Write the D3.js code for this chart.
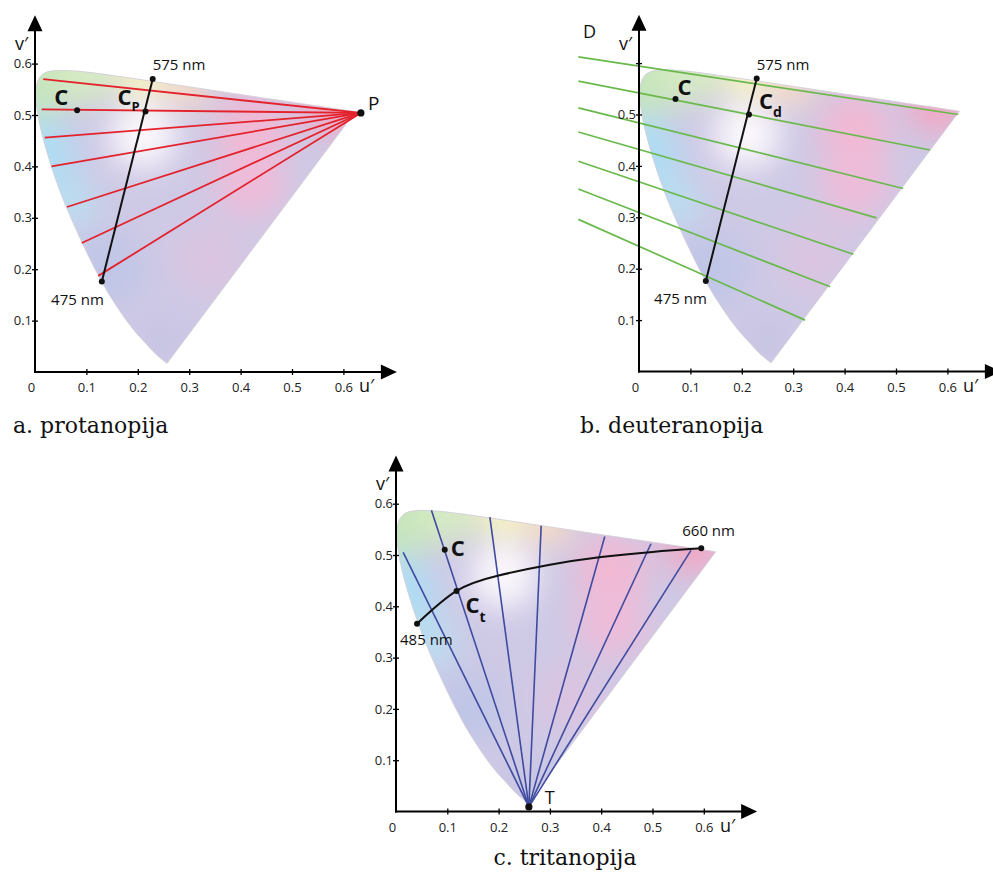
<!DOCTYPE html>
<html><head><meta charset="utf-8">
<script src="https://cdn.jsdelivr.net/npm/d3@7"></script>
<style>body{margin:0;background:#fff} svg{display:block}</style>
</head><body>
<svg id="chart" width="993" height="879"></svg>
<script>
// ---------- DATA (CIE 1976 u'v' chromaticity) ----------
const locusNm = [380,440,450,460,470,475,480,485,490,495,500,505,510,515,520,525,530,540,550,560,570,575,580,590,600,610,620,630,640,650,660,680,700];
const locusU  = [0.2568,0.2347,0.2161,0.1877,0.1441,0.1147,0.0828,0.0521,0.0282,0.0119,0.0035,0.0014,0.0046,0.0123,0.0231,0.0360,0.0501,0.0792,0.1127,0.1531,0.2026,0.2312,0.2623,0.3315,0.4035,0.4692,0.5203,0.5565,0.5830,0.6005,0.6109,0.6199,0.6234];
const locusV  = [0.0166,0.0350,0.0549,0.0871,0.1510,0.2044,0.2708,0.3427,0.4117,0.4698,0.5131,0.5432,0.5638,0.5770,0.5837,0.5861,0.5868,0.5856,0.5821,0.5766,0.5694,0.5651,0.5604,0.5501,0.5393,0.5296,0.5219,0.5165,0.5125,0.5099,0.5084,0.5070,0.5065];

const tickValues = [0.1,0.2,0.3,0.4,0.5,0.6];
const tickLabelsA = ["0.1","0.2","0.3","0.4","0.5","0.6"];
const tickLabelsB = ["0.1","0.2","0.3","0.4","0.5",""];
const xTickLabels = ["0","0.1","0.2","0.3","0.4","0.5","0.6"];
const xTickValues = [0,0.1,0.2,0.3,0.4,0.5,0.6];

// protanopia (a)
const protanPoint = [0.634, 0.504];
const protanStartU = [0.016,0.013,0.019,0.032,0.062,0.091,0.123];
const protanStartV = [0.570,0.511,0.456,0.400,0.321,0.251,0.187];
const protanC  = [0.082, 0.509];
const protanCp = [0.215, 0.507];
const axis575 = [0.229, 0.570];
const axis475 = [0.130, 0.176];

// deuteranopia (b)
const deutanStartU = [-0.118,-0.118,-0.118,-0.118,-0.118,-0.118,-0.118];
const deutanStartV = [0.612,0.565,0.513,0.466,0.409,0.355,0.296];
const deutanEndU   = [0.621,0.566,0.514,0.462,0.417,0.372,0.323];
const deutanEndV   = [0.500,0.431,0.356,0.299,0.228,0.165,0.100];
const deutanC  = [0.071, 0.530];
const deutanCd = [0.214, 0.500];

// tritanopia (c)
const tritanPoint = [0.259, 0.009];
const tritanEndU = [0.014,0.069,0.183,0.283,0.407,0.497,0.575];
const tritanEndV = [0.505,0.587,0.574,0.557,0.536,0.522,0.509];
const tritanCurveU = [0.041,0.118,0.200,0.300,0.400,0.500,0.595];
const tritanCurveV = [0.366,0.430,0.460,0.481,0.496,0.506,0.513];
const tritanC  = [0.095, 0.510];
const tritanCt = [0.118, 0.430];

// decorative colour blobs of the chromaticity fill
const blobs = [
  {u:0.00,v:0.58,r:0.09,c:"#c6e5bc"},
  {u:0.10,v:0.58,r:0.06,c:"#d6ebc3"},
  {u:0.21,v:0.58,r:0.05,c:"#f8f4c0"},
  {u:0.30,v:0.56,r:0.045,c:"#f9dac4"},
  {u:0.00,v:0.42,r:0.08,c:"#afddf3"},
  {u:0.07,v:0.33,r:0.05,c:"#badef1"},
  {u:0.21,v:0.46,r:0.065,c:"#fcf8fc"},
  {u:0.42,v:0.47,r:0.07,c:"#f2b8d3"},
  {u:0.58,v:0.52,r:0.06,c:"#f2a8c4"},
  {u:0.42,v:0.37,r:0.07,c:"#eebcd9"},
  {u:0.14,v:0.20,r:0.07,c:"#c0c6e7"},
  {u:0.34,v:0.22,r:0.07,c:"#dac4e1"},
  {u:0.25,v:0.06,r:0.05,c:"#c8c5e3"}
];

// ---------- DRAW ----------
const svg = d3.select("#chart");
svg.append("rect").attr("width",993).attr("height",879).attr("fill","#fff");
const defs = svg.append("defs");
defs.append("filter").attr("id","blur").attr("filterUnits","userSpaceOnUse")
  .attr("x",-200).attr("y",-200).attr("width",1400).attr("height",1300)
  .append("feGaussianBlur").attr("stdDeviation",15);

const panels = [
  {id:"a", ox:35,  oy:372,   k:514},
  {id:"b", ox:639, oy:371.5, k:514},
  {id:"c", ox:396, oy:811.5, k:513}
];
const labelFont = "'Open Sans', 'DejaVu Sans', sans-serif";

function makePanel(p){
  const x = d3.scaleLinear().domain([0,0.6]).range([p.ox, p.ox+0.6*p.k]);
  const y = d3.scaleLinear().domain([0,0.6]).range([p.oy, p.oy-0.6*p.k]);
  const g = svg.append("g").attr("class","panel-"+p.id);
  const locusPts = locusU.map((u,i)=>[x(u), y(locusV[i])]);
  const lineGen = d3.line().curve(d3.curveCatmullRom.alpha(0.5));
  const locusPath = lineGen(locusPts) + "Z";
  defs.append("clipPath").attr("id","clip-"+p.id).append("path").attr("d",locusPath);
  const fillG = g.append("g").attr("clip-path","url(#clip-"+p.id+")");
  fillG.append("path").attr("d",locusPath).attr("fill","#cec9e5");
  fillG.append("g").attr("filter","url(#blur)").selectAll("circle").data(blobs).join("circle")
    .attr("cx",d=>x(d.u)).attr("cy",d=>y(d.v)).attr("r",d=>d.r*p.k).attr("fill",d=>d.c);
  g.append("path").attr("d",locusPath).attr("fill","none").attr("stroke","#d4cfd8").attr("stroke-width",0.9);
  return {x,y,g};
}

function drawAxes(P, p, yLabels){
  const {x,y,g} = P;
  const ax = g.append("g");
  const xEnd = 0.704, yEnd = 0.694;
  const xa = ax.append("g").attr("transform",`translate(0,${p.oy})`)
    .call(d3.axisBottom(x).tickValues(xTickValues).tickSize(3).tickFormat((d,i)=>xTickLabels[i]));
  xa.select(".domain").remove();
  xa.selectAll(".tick line").attr("y1",-3).attr("y2",3).attr("stroke","#000").attr("stroke-width",1.3)
    .filter(d=>d===0).remove();
  xa.selectAll(".tick text").attr("y",11).attr("font-size",13).attr("font-family",labelFont).attr("fill","#222")
    .attr("dx",d=>d===0?-4:0);
  ax.append("line").attr("x1",x(0)-1).attr("x2",x(xEnd)-12).attr("y1",p.oy).attr("y2",p.oy)
    .attr("stroke","#000").attr("stroke-width",2);
  ax.append("path").attr("d",`M${x(xEnd)},${p.oy} L${x(xEnd)-16},${p.oy-7.5} L${x(xEnd)-16},${p.oy+7.5}Z`).attr("fill","#000");
  const ya = ax.append("g").attr("transform",`translate(${p.ox},0)`)
    .call(d3.axisLeft(y).tickValues(tickValues).tickSize(3).tickFormat((d,i)=>yLabels[i]));
  ya.select(".domain").remove();
  ya.selectAll(".tick line").attr("x1",-3).attr("x2",3).attr("stroke","#000").attr("stroke-width",1.3);
  ya.selectAll(".tick text").attr("x",-3).attr("font-size",13).attr("font-family",labelFont).attr("fill","#222");
  ax.append("line").attr("x1",p.ox).attr("x2",p.ox).attr("y1",p.oy+1).attr("y2",y(yEnd)+12)
    .attr("stroke","#000").attr("stroke-width",2);
  ax.append("path").attr("d",`M${p.ox},${y(yEnd)} L${p.ox-7.5},${y(yEnd)+16} L${p.ox+7.5},${y(yEnd)+16}Z`).attr("fill","#000");
  ax.append("text").attr("x",p.ox+324).attr("y",p.oy+20).text("u\u2032")
    .attr("font-size",18).attr("font-family",labelFont).attr("fill","#111");
  ax.append("text").attr("x",p.ox-20).attr("y",p.oy-322).text("v\u2032")
    .attr("font-size",18).attr("font-family",labelFont).attr("fill","#111");
}

function dot(g,x,y,pt,r){
  g.append("circle").attr("cx",x(pt[0])).attr("cy",y(pt[1])).attr("r",r||3.2).attr("fill","#111");
}
function txt(g,xp,yp,s,size,weight,anchor){
  return g.append("text").attr("x",xp).attr("y",yp).text(s).attr("font-size",size)
    .attr("font-weight",weight||"normal").attr("text-anchor",anchor||"start")
    .attr("font-family",labelFont).attr("fill","#111");
}

// ---- panel a: protanopia
{
  const p = panels[0]; const P = makePanel(p); const {x,y,g} = P;
  g.append("g").selectAll("line").data(protanStartU).join("line")
    .attr("x1",(d)=>x(d)).attr("y1",(d,i)=>y(protanStartV[i]))
    .attr("x2",x(protanPoint[0])).attr("y2",y(protanPoint[1]))
    .attr("stroke","#e3222b").attr("stroke-width",1.8);
  g.append("line").attr("x1",x(axis475[0])).attr("y1",y(axis475[1])).attr("x2",x(axis575[0])).attr("y2",y(axis575[1]))
    .attr("stroke","#111").attr("stroke-width",2);
  [protanC, protanCp, axis575, axis475].forEach(pt=>dot(g,x,y,pt,3));
  dot(g,x,y,protanPoint,3.6);
  txt(g,x(axis575[0]),y(axis575[1])-9,"575 nm",15);
  txt(g,x(axis475[0])+2,y(axis475[1])+23,"475 nm",15,"normal","end");
  txt(g,x(protanC[0])-23,y(protanC[1])-5,"C",22,"bold");
  txt(g,x(protanCp[0])-28,y(protanCp[1])-6,"C",22,"bold");
  txt(g,x(protanCp[0])-14,y(protanCp[1])-0.5,"P",13,"bold");
  txt(g,x(protanPoint[0])+7,y(protanPoint[1])-2.5,"P",19);
  drawAxes(P,p,tickLabelsA);
}

// ---- panel b: deuteranopia
{
  const p = panels[1]; const P = makePanel(p); const {x,y,g} = P;
  g.append("g").selectAll("line").data(deutanStartU).join("line")
    .attr("x1",(d)=>x(d)).attr("y1",(d,i)=>y(deutanStartV[i]))
    .attr("x2",(d,i)=>x(deutanEndU[i])).attr("y2",(d,i)=>y(deutanEndV[i]))
    .attr("stroke","#6ab94c").attr("stroke-width",1.7);
  g.append("line").attr("x1",x(axis475[0])).attr("y1",y(axis475[1])).attr("x2",x(axis575[0])).attr("y2",y(axis575[1]))
    .attr("stroke","#111").attr("stroke-width",2);
  [deutanC, deutanCd, axis575, axis475].forEach(pt=>dot(g,x,y,pt,3));
  txt(g,x(axis575[0]),y(axis575[1])-9,"575 nm",15);
  txt(g,x(axis475[0])+1,y(axis475[1])+23,"475 nm",15,"normal","end");
  txt(g,x(deutanC[0])+2,y(deutanC[1])-4,"C",22,"bold");
  txt(g,x(deutanCd[0])+10,y(deutanCd[1])-6,"C",22,"bold");
  txt(g,x(deutanCd[0])+24,y(deutanCd[1])+2.5,"d",14,"bold");
  txt(g,p.ox-56,38,"D",18);
  drawAxes(P,p,tickLabelsB);
}

// ---- panel c: tritanopia
{
  const p = panels[2]; const P = makePanel(p); const {x,y,g} = P;
  g.append("g").selectAll("line").data(tritanEndU).join("line")
    .attr("x1",x(tritanPoint[0])).attr("y1",y(tritanPoint[1]))
    .attr("x2",(d)=>x(d)).attr("y2",(d,i)=>y(tritanEndV[i]))
    .attr("stroke","#3e4ba0").attr("stroke-width",1.6);
  const curve = d3.line().curve(d3.curveNatural);
  g.append("path").attr("d",curve(tritanCurveU.map((u,i)=>[x(u),y(tritanCurveV[i])])))
    .attr("fill","none").attr("stroke","#111").attr("stroke-width",2);
  const n = tritanCurveU.length;
  const cStart = [tritanCurveU[0],tritanCurveV[0]], cEnd = [tritanCurveU[n-1],tritanCurveV[n-1]];
  [tritanC, tritanCt, cStart, cEnd].forEach(pt=>dot(g,x,y,pt,3));
  dot(g,x,y,tritanPoint,3.6);
  txt(g,x(cEnd[0])-19,y(cEnd[1])-12.5,"660 nm",15);
  txt(g,x(cStart[0])-17,y(cStart[1])+21,"485 nm",15);
  txt(g,x(tritanC[0])+6,y(tritanC[1])+6,"C",22,"bold");
  txt(g,x(tritanCt[0])+9,y(tritanCt[1])+22,"C",22,"bold");
  txt(g,x(tritanCt[0])+23,y(tritanCt[1])+31,"t",14,"bold");
  txt(g,x(tritanPoint[0])+16,y(tritanPoint[1])-3,"T",18);
  drawAxes(P,p,tickLabelsA);
}

// captions
const capFont = "'DejaVu Serif', 'Liberation Serif', serif";
const captions = [["a. protanopija",13,433,"start"],["b. deuteranopija",580,433,"start"],["c. tritanopija",565,865,"middle"]];
svg.selectAll("text.cap").data(captions).join("text").attr("class","cap")
  .attr("x",d=>d[1]).attr("y",d=>d[2]).attr("text-anchor",d=>d[3]).text(d=>d[0])
  .attr("font-family",capFont).attr("font-size",22).attr("fill","#111");
</script>
</body></html>
